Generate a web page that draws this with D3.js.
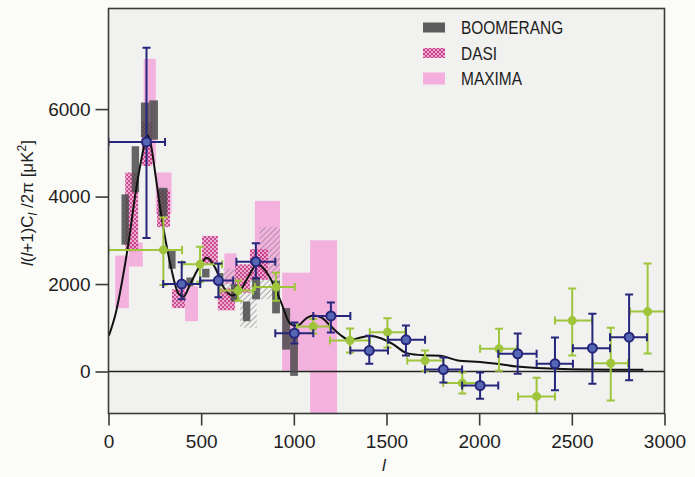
<!DOCTYPE html>
<html>
<head>
<meta charset="UTF-8">
<style>
  body { margin: 0; background: #fbfbf8; }
  svg { display: block; }
  text { font-family: "Liberation Sans", Arial, sans-serif; fill: #1e1e1e; }
</style>
</head>
<body>
<svg></svg>
<script src="https://d3js.org/d3.v7.min.js"></script>
<script>

// band powers: [l min, l max, low, high] in uK^2
let boomerang = [
  [70, 110, 2900, 4050], [125, 165, 4100, 5150], [175, 220, 5350, 6150],
  [220, 267, 5300, 6200], [270, 318, 3550, 4200], [323, 362, 2350, 2800],
  [420, 458, 1950, 2150], [505, 545, 2150, 2350], [585, 620, 1950, 2250],
  [660, 700, 1600, 2000], [725, 765, 1150, 1600], [775, 818, 1650, 2150],
  [883, 925, 1330, 2080], [937, 980, 500, 1450], [980, 1022, -100, 950]
];
let dasi = [
  [90, 160, 2750, 4550], [180, 235, 4700, 5700], [262, 332, 3300, 4150],
  [342, 413, 1450, 1880], [505, 590, 2450, 3100], [590, 683, 1400, 1900],
  [683, 763, 1800, 2450], [763, 860, 2100, 2800]
];
let maxima = [
  [36, 110, 1450, 2650], [110, 185, 2400, 2950], [190, 255, 4750, 7150],
  [255, 340, 3600, 4550], [413, 483, 1150, 1950], [625, 690, 2000, 2700],
  [790, 925, 2100, 3900], [937, 1088, 20, 2260], [1088, 1233, -1200, 3000]
];
let hatched = [
  [620, 710, 1600, 2350], [710, 800, 1000, 2350], [815, 925, 1650, 3300]
];

// points: [l, l min, l max, value, low, high]
let bluePts = [
  [205, 0, 305, 5250, 3050, 7400], [395, 295, 495, 2000, 1650, 2500],
  [593, 495, 673, 2080, 1700, 2470], [795, 690, 900, 2510, 2130, 2930],
  [1003, 900, 1105, 875, 640, 1120], [1200, 1105, 1305, 1270, 890, 1580],
  [1407, 1305, 1508, 480, 180, 820], [1605, 1508, 1708, 725, 365, 1050],
  [1807, 1708, 1908, 45, -250, 320], [2005, 1908, 2103, -320, -620, -20],
  [2208, 2103, 2310, 405, -50, 870], [2409, 2310, 2506, 175, -430, 780],
  [2611, 2506, 2706, 533, -280, 1320], [2809, 2706, 2905, 785, -200, 1760]
];
let greenPts = [
  [296, 0, 397, 2780, 1980, 3520], [494, 397, 613, 2450, 2050, 2850],
  [700, 600, 780, 1850, 1620, 2080], [904, 790, 1005, 1930, 1620, 2260],
  [1105, 1017, 1195, 1030, 870, 1200], [1303, 1195, 1410, 710, 435, 985],
  [1505, 1410, 1600, 900, 550, 1215], [1708, 1612, 1806, 250, 20, 480],
  [1909, 1806, 2005, -265, -500, -20], [2107, 2005, 2204, 520, 20, 980],
  [2310, 2210, 2409, -570, -140, -1050], [2502, 2409, 2609, 1165, 365, 1900],
  [2710, 2614, 2803, 190, -660, 1000], [2909, 2814, 3013, 1370, 410, 2470]
];

// model curve [l, value]
let model = [
  [2, 820], [40, 1350], [75, 2100], [110, 3000], [143, 4000], [175, 4800],
  [198, 5250], [212, 5400], [228, 5200], [255, 4450], [280, 3700], [310, 2950],
  [340, 2330], [375, 1800], [405, 1710], [440, 1990], [494, 2420], [530, 2600],
  [575, 2380], [620, 1930], [665, 1740], [710, 1850], [763, 2230], [800, 2450],
  [853, 2270], [889, 2000], [934, 1550], [979, 1100], [1015, 1040], [1069, 1220],
  [1105, 1280], [1150, 1230], [1196, 1050], [1250, 840], [1303, 720], [1360, 780],
  [1411, 810], [1470, 760], [1537, 620], [1609, 420], [1700, 370], [1789, 360],
  [1879, 260], [2005, 215], [2095, 175], [2203, 115], [2454, 60], [2886, 40]
];

let xTicks = [0, 500, 1000, 1500, 2000, 2500, 3000];
let yTicks = [0, 2000, 4000, 6000];
let legendNames = ["BOOMERANG", "DASI", "MAXIMA"];

let width = 695;
let height = 477;

let svg = d3.select("svg")
  .attr("width", width)
  .attr("height", height);

let x = d3.scaleLinear().domain([0, 3000]).range([108.5, 664.5]);
let y = d3.scaleLinear().domain([-960, 8300]).range([413.5, 8.5]);

let defs = svg.append("defs");
let checker = defs.append("pattern")
  .attr("id", "checker")
  .attr("patternUnits", "userSpaceOnUse")
  .attr("width", 4).attr("height", 4);
checker.append("rect").attr("width", 4).attr("height", 4).attr("fill", "#ee9fcc");
checker.append("rect").attr("width", 2).attr("height", 2).attr("fill", "#c2307e");
checker.append("rect").attr("x", 2).attr("y", 2).attr("width", 2).attr("height", 2).attr("fill", "#c2307e");

let hatch = defs.append("pattern")
  .attr("id", "hatch")
  .attr("patternUnits", "userSpaceOnUse")
  .attr("width", 4).attr("height", 4)
  .attr("patternTransform", "rotate(45)");
hatch.append("line")
  .attr("x1", 0).attr("y1", 0).attr("x2", 0).attr("y2", 4)
  .attr("stroke", "#7a7a7a").attr("stroke-width", 1.3);

defs.append("clipPath").attr("id", "plotclip")
  .append("rect")
  .attr("x", x(0)).attr("y", y(8300))
  .attr("width", x(3000) - x(0)).attr("height", y(-960) - y(8300));

// plot background
svg.append("rect")
  .attr("x", x(0)).attr("y", y(8300))
  .attr("width", x(3000) - x(0)).attr("height", y(-960) - y(8300))
  .attr("fill", "#f1f1ef");

let plot = svg.append("g").attr("clip-path", "url(#plotclip)");

function boxes(data, fill, opacity) {
  plot.append("g")
    .selectAll("rect")
    .data(data)
    .enter()
    .append("rect")
      .attr("x", d => x(d[0]))
      .attr("width", d => x(d[1]) - x(d[0]))
      .attr("y", d => y(d[3]))
      .attr("height", d => y(d[2]) - y(d[3]))
      .attr("fill", fill)
      .attr("opacity", opacity);
}

boxes(maxima, "#f3a6da", 0.85);

plot.append("line")
  .attr("x1", x(0)).attr("x2", x(3000))
  .attr("y1", y(0)).attr("y2", y(0))
  .attr("stroke", "#222").attr("stroke-width", 1.6);

boxes(hatched, "url(#hatch)", 0.9);
boxes(dasi, "url(#checker)", 0.85);
boxes(boomerang, "#4b4b4b", 0.85);

let line = d3.line()
  .x(d => x(d[0]))
  .y(d => y(d[1]))
  .curve(d3.curveMonotoneX);

plot.append("path")
  .datum(model)
  .attr("d", line)
  .attr("fill", "none")
  .attr("stroke", "#111")
  .attr("stroke-width", 2);

function errPoints(data, color, dotFill, r) {
  let g = plot.append("g")
    .selectAll("g")
    .data(data)
    .enter()
    .append("g")
    .attr("stroke", color)
    .attr("stroke-width", 2);
  g.append("line")
    .attr("x1", d => x(d[1])).attr("x2", d => x(d[2]))
    .attr("y1", d => y(d[3])).attr("y2", d => y(d[3]));
  g.append("line")
    .attr("x1", d => x(d[0])).attr("x2", d => x(d[0]))
    .attr("y1", d => y(d[4])).attr("y2", d => y(d[5]));
  // caps
  g.append("line")
    .attr("x1", d => x(d[1])).attr("x2", d => x(d[1]))
    .attr("y1", d => y(d[3]) - 4).attr("y2", d => y(d[3]) + 4);
  g.append("line")
    .attr("x1", d => x(d[2])).attr("x2", d => x(d[2]))
    .attr("y1", d => y(d[3]) - 4).attr("y2", d => y(d[3]) + 4);
  g.append("line")
    .attr("x1", d => x(d[0]) - 4).attr("x2", d => x(d[0]) + 4)
    .attr("y1", d => y(d[4])).attr("y2", d => y(d[4]));
  g.append("line")
    .attr("x1", d => x(d[0]) - 4).attr("x2", d => x(d[0]) + 4)
    .attr("y1", d => y(d[5])).attr("y2", d => y(d[5]));
  g.append("circle")
    .attr("cx", d => x(d[0]))
    .attr("cy", d => y(d[3]))
    .attr("r", r)
    .attr("fill", dotFill);
}

errPoints(greenPts, "#9ec53c", "#9ec53c", 3.5);
errPoints(bluePts, "#26267a", "#5566b4", 4.5);

// frame
svg.append("rect")
  .attr("x", x(0)).attr("y", y(8300))
  .attr("width", x(3000) - x(0)).attr("height", y(-960) - y(8300))
  .attr("fill", "none")
  .attr("stroke", "#3a3a3a")
  .attr("stroke-width", 1.6);

let xAxis = svg.append("g")
  .attr("transform", "translate(0," + y(-960) + ")")
  .call(d3.axisBottom(x).tickValues(xTicks).tickSize(12).tickPadding(9.5).tickFormat(d3.format("d")));
let yAxis = svg.append("g")
  .attr("transform", "translate(" + x(0) + ",0)")
  .call(d3.axisLeft(y).tickValues(yTicks).tickSize(13).tickPadding(5).tickFormat(d3.format("d")));

[xAxis, yAxis].forEach(a => {
  a.select(".domain").remove();
  a.selectAll("line").attr("stroke", "#3a3a3a").attr("stroke-width", 1.6);
  a.selectAll("text")
    .attr("fill", "#1e1e1e")
    .style("font-size", "19px")
    .style("font-family", "'Liberation Sans', Arial, sans-serif");
});

svg.append("text")
  .attr("x", 384)
  .attr("y", 471)
  .attr("text-anchor", "middle")
  .style("font-size", "17px")
  .style("font-style", "italic")
  .text("l");

let ylab = svg.append("text")
  .attr("transform", "translate(33,203) rotate(-90)")
  .attr("text-anchor", "middle")
  .style("font-size", "17px");
ylab.append("tspan").style("font-style", "italic").text("l");
ylab.append("tspan").text("(");
ylab.append("tspan").style("font-style", "italic").text("l");
ylab.append("tspan").text("+1)C");
ylab.append("tspan").style("font-style", "italic").style("font-size", "12px").attr("dy", 4).text("l");
ylab.append("tspan").attr("dy", -4).text(" /2\u03c0 [\u03bcK");
ylab.append("tspan").style("font-size", "12px").attr("dy", -7).text("2");
ylab.append("tspan").attr("dy", 7).text("]");

// legend
let legend = svg.append("g").attr("class", "legend");
let swatchFill = ["#4b4b4b", "url(#checker)", "#f3a6da"];
let lg = legend.selectAll("g")
  .data(legendNames)
  .enter()
  .append("g")
  .attr("transform", (d, i) => "translate(423," + (27.5 + i * 25.5) + ")");
lg.append("rect")
  .attr("x", 0).attr("y", (d, i) => i == 2 ? -6 : -5)
  .attr("width", 22)
  .attr("height", (d, i) => i == 2 ? 12 : 10)
  .attr("fill", (d, i) => swatchFill[i])
  .attr("opacity", 0.9);
// condensed look of the original typeface
lg.append("text")
  .attr("transform", "translate(38,6.5) scale(0.86,1)")
  .style("font-size", "18px")
  .text(d => d);

</script>
</body>
</html>
